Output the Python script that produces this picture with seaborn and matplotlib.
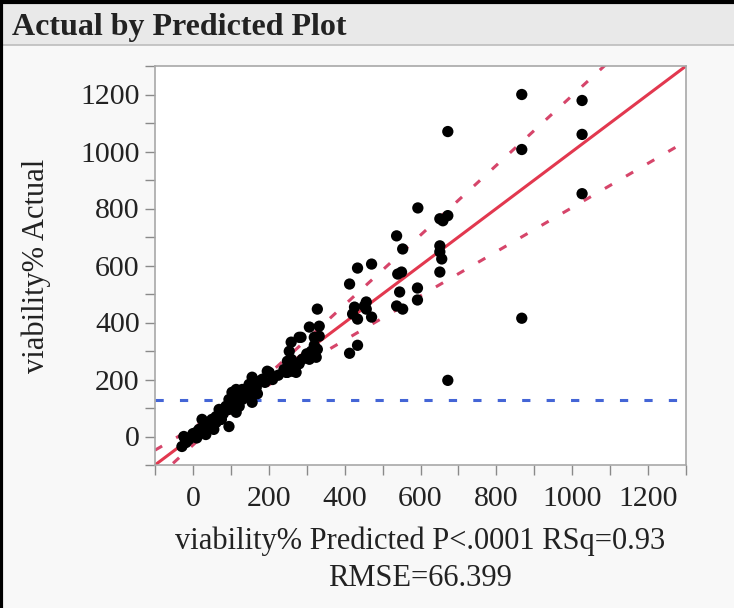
import matplotlib
matplotlib.use("Agg")
import matplotlib.pyplot as plt
from matplotlib.patches import Rectangle
from matplotlib.lines import Line2D
from matplotlib.ticker import MultipleLocator
import seaborn as sns
import pandas as pd

# predicted vs actual viability%
predicted = [867, 1026, 1026, 1026, 867, 867, 672, 672, 593,
             651, 659, 672, 651, 651, 656, 651,
             553, 537, 550, 540, 545, 553, 537, 592, 592,
             413, 434, 471, 426, 421, 434, 457, 457, 471, 452, 413, 434,
             328, 333, 307, 285, 259, 320, 333, 328, 312, 325, 307, 288,
             249, 254, 272, 249, 262, 280, 254, 315, 246,
             201, 183, 175, 156, 148, 167, 156, 140, 143, 130, 196,
             114, 103, 122, 95, 108, 95, 87, 114, 122, 95,
             69, 61, 50, 42, 34, 61, 55, 34, 24,
             16, 8, -3, -11, -24, -29, -18,
             130, 135, 150, 100, 80, 75, 45, 20, 0, -20, 10, 120, 170,
             190, 210, 225, 240, 280, 300, 320, 260]
actual = [1200, 1179, 1060, 852, 1007, 415, 1070, 197, 802,
          764, 757, 775, 669, 648, 623, 577,
          658, 704, 577, 570, 507, 447, 458, 521, 479,
          535, 591, 605, 454, 430, 412, 472, 447, 419, 458, 292, 320,
          447, 387, 384, 348, 331, 348, 352, 306, 299, 278, 271, 271,
          264, 246, 225, 225, 229, 348, 299, 282, 225,
          225, 201, 194, 208, 183, 172, 120, 165, 141, 165, 229,
          165, 155, 141, 130, 120, 95, 106, 85, 106, 35,
          95, 70, 60, 49, 35, 49, 25, 7, 60,
          25, 14, 0, -11, 0, -35, -21,
          130, 150, 150, 110, 80, 60, 40, 20, 10, -10, -5, 160, 150,
          190, 200, 215, 235, 255, 290, 320, 270]

# fit line and confidence curves
fit_x = [-100, 1300]
fit_y = [-100, 1300]
band_x = [-100, 0, 60, 128, 200, 300, 400, 500, 700, 900, 1100, 1300]
band_upper = [-48, 30, 78, 138, 219, 340, 462, 584, 829, 1074, 1319, 1564]
band_lower = [-152, -30, 42, 118, 181, 260, 338, 416, 571, 726, 881, 1036]
mean_actual = 128

df = pd.DataFrame({"Predicted": predicted, "Actual": actual})

sns.set_theme(style="white")
plt.rcParams["font.family"] = ["Liberation Serif", "DejaVu Serif"]

fig = plt.figure(figsize=(7.34, 6.08), dpi=100, facecolor="#f8f8f8")

# header bar
fig.patches.append(Rectangle((0, 1 - 45 / 608), 1, 45 / 608, transform=fig.transFigure,
                             facecolor="#e9e9e9", edgecolor="none", zorder=0))
fig.add_artist(Line2D([0, 1], [1 - 45 / 608, 1 - 45 / 608], transform=fig.transFigure,
                      color="#bdbdbd", lw=1.2))
fig.add_artist(Line2D([0.002, 0.002], [0, 1], transform=fig.transFigure, color="black", lw=3))
fig.add_artist(Line2D([0, 1], [0.997, 0.997], transform=fig.transFigure, color="black", lw=3))
fig.text(12 / 734, 1 - 28 / 608, "Actual by Predicted Plot", fontsize=23, fontweight="bold",
         color="#222222", va="center", ha="left")

ax = fig.add_axes([155 / 734, 143 / 608, 531 / 734, 399 / 608])
ax.set_facecolor("white")

dash = (0, (2.7, 5.3))
ax.plot(fit_x, fit_y, color="#e2384f", lw=2.2, zorder=2)
ax.plot(band_x, band_upper, color="#d6456a", lw=2.2, ls=dash, zorder=2)
ax.plot(band_x, band_lower, color="#d6456a", lw=2.2, ls=dash, zorder=2)
ax.axhline(mean_actual, color="#4465d6", lw=2.2, ls=dash, zorder=2)

sns.scatterplot(data=df, x="Predicted", y="Actual", color="black", s=66,
                edgecolor="none", linewidth=0, ax=ax, zorder=3)

ax.set_xlim(-100, 1300)
ax.set_ylim(-100, 1300)
ticks = [0, 200, 400, 600, 800, 1000, 1200]
ax.set_xticks(ticks)
ax.set_yticks(ticks)
ax.xaxis.set_minor_locator(MultipleLocator(100))
ax.yaxis.set_minor_locator(MultipleLocator(100))
ax.tick_params(which="both", bottom=True, left=True, direction="out", color="#8a8a8a",
               width=1, length=7, labelsize=21.5, labelcolor="#222222")
ax.tick_params(axis="x", pad=8)
ax.tick_params(axis="y", pad=4)
for s in ax.spines.values():
    s.set_color("#a8a8a8")
    s.set_linewidth(1.2)

ax.set_xlabel("")
ax.set_ylabel("viability% Actual", fontsize=22, color="#222222")
ax.yaxis.set_label_coords(-0.195, 0.5)
fig.text(420 / 734, 1 - 541 / 608, "viability% Predicted P<.0001 RSq=0.93", fontsize=22,
         ha="center", va="center", color="#222222")
fig.text(420 / 734, 1 - 578 / 608, "RMSE=66.399", fontsize=22, ha="center", va="center",
         color="#222222")

fig.savefig("out.png", dpi=100, facecolor=fig.get_facecolor())
